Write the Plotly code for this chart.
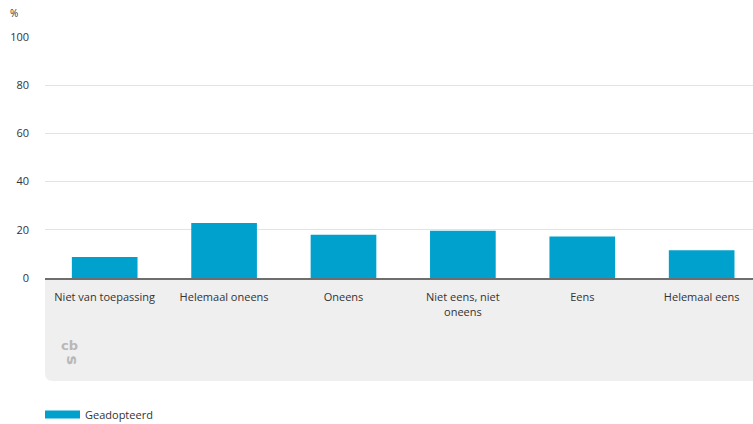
import plotly.graph_objects as go

categories = ["Niet van toepassing", "Helemaal oneens", "Oneens",
              "Niet eens, niet<br>oneens", "Eens", "Helemaal eens"]
values = [8.7, 22.8, 17.9, 19.6, 17.2, 11.5]
series_name = "Geadopteerd"
y_ticks = [0, 20, 40, 60, 80, 100]

W, H = 753, 424
ml, mr, mt, mb = 45, 0, 36, 146
pw = W - ml - mr
ph = H - mt - mb
bar_color = "#00a1cd"

font = dict(family="Open Sans, Noto Sans, sans-serif", size=11, color="#333333")

fig = go.Figure()
fig.add_trace(go.Bar(
    x=categories, y=values, name=series_name,
    marker=dict(color=bar_color, line=dict(width=0)),
    width=0.55, showlegend=False,
    hoverinfo="x+y",
))
# legend entry with a wide swatch
fig.add_trace(go.Scatter(
    x=[None], y=[None], mode="lines", name=series_name,
    line=dict(color=bar_color, width=8), showlegend=True,
))

# gray panel below the axis with rounded bottom-left corner
panel_bottom = -(381 - 278) / ph
rx = 8 / pw
ry = 8 / ph
path = (f"M 0,0 L 1,0 L 1,{panel_bottom} L {rx},{panel_bottom} "
        f"Q 0,{panel_bottom} 0,{panel_bottom + ry} Z")
shapes = [dict(type="path", xref="paper", yref="paper", path=path,
               fillcolor="#efefef", line=dict(width=0), layer="below")]

annotations = [
    dict(text="%", xref="paper", yref="paper", x=-(ml - 8) / pw, y=1 + 23 / ph,
         xanchor="left", yanchor="middle", showarrow=False,
         font=dict(family=font["family"], size=10, color="#333333")),
    # cbs logo approximation
    dict(text="<b>cb</b>", xref="paper", yref="paper", x=14 / pw, y=-(345 - 278) / ph,
         xanchor="left", yanchor="middle", showarrow=False,
         font=dict(family="DejaVu Sans", size=13, color="#b8b8b8")),
    dict(text="<b>s</b>", xref="paper", yref="paper", x=16 / pw, y=-(360 - 278) / ph,
         xanchor="left", yanchor="middle", showarrow=False, textangle=90,
         font=dict(family="DejaVu Sans", size=16, color="#b8b8b8")),
]

fig.update_layout(
    width=W, height=H,
    margin=dict(l=ml, r=mr, t=mt, b=mb, pad=0, autoexpand=False),
    paper_bgcolor="white", plot_bgcolor="white",
    font=font,
    bargap=0.45,
    shapes=shapes,
    annotations=annotations,
    showlegend=True,
    legend=dict(orientation="h", x=-5 / pw, y=-(400 - 278) / ph,
                xanchor="left", yanchor="top", itemwidth=35,
                font=dict(family=font["family"], size=11, color="#333333"),
                bgcolor="rgba(0,0,0,0)"),
    xaxis=dict(
        range=[-0.5, 5.43], showgrid=False, ticks="", showline=True,
        linecolor="#6e6e6e", linewidth=2, tickfont=font, fixedrange=True,
        ticklabelstandoff=8, automargin=False,
    ),
    yaxis=dict(
        range=[0, 100.4], tickvals=y_ticks, showgrid=True, gridcolor="#e3e3e3",
        gridwidth=1, zeroline=False, showline=False, ticks="",
        tickfont=font, ticklabelstandoff=15, fixedrange=True, automargin=False,
    ),
)

# remove the default page margin so the figure fills the 753x424 window
fig.write_html("out.html",
               config={"displayModeBar": False},
               post_script="document.body.style.margin='0';"
                           "document.body.style.overflow='hidden';")
